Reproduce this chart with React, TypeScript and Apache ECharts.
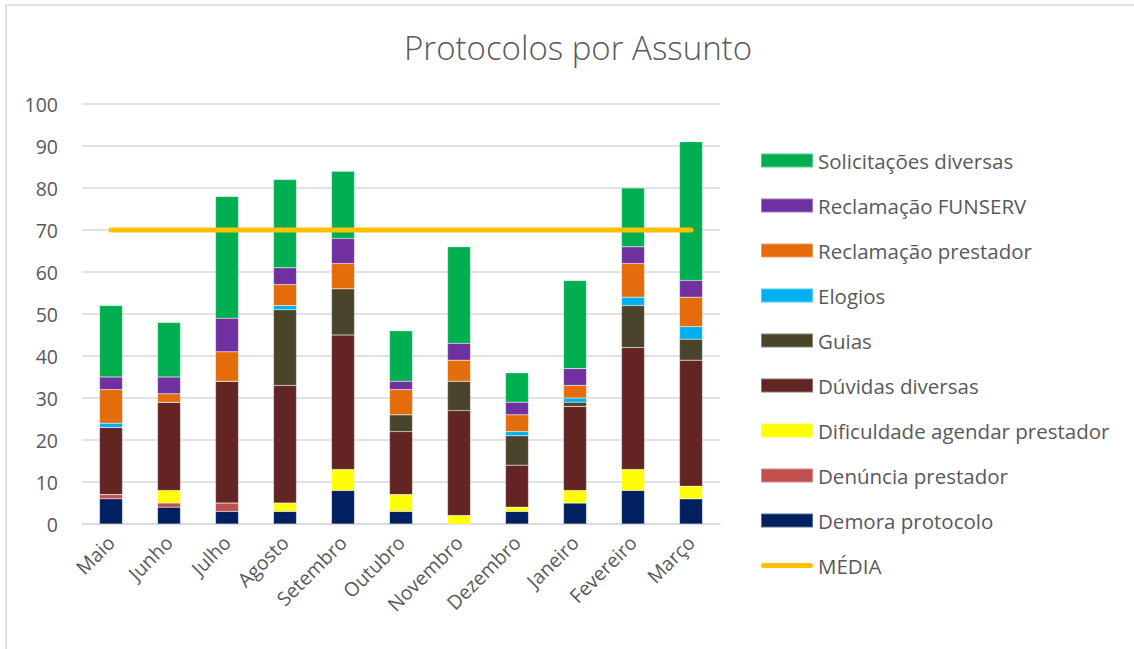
import React, { useEffect, useRef } from "react";
import * as echarts from "echarts";

const categories = ["Maio", "Junho", "Julho", "Agosto", "Setembro", "Outubro", "Novembro", "Dezembro", "Janeiro", "Fevereiro", "Março"];

const demoraProtocolo = [6, 4, 3, 3, 8, 3, 0, 3, 5, 8, 6];
const denunciaPrestador = [1, 1, 2, 0, 0, 0, 0, 0, 0, 0, 0];
const dificuldadeAgendar = [0, 3, 0, 2, 5, 4, 2, 1, 3, 5, 3];
const duvidasDiversas = [16, 21, 29, 28, 32, 15, 25, 10, 20, 29, 30];
const guias = [0, 0, 0, 18, 11, 4, 7, 7, 1, 10, 5];
const elogios = [1, 0, 0, 1, 0, 0, 0, 1, 1, 2, 3];
const reclamacaoPrestador = [8, 2, 7, 5, 6, 6, 5, 4, 3, 8, 7];
const reclamacaoFunserv = [3, 4, 8, 4, 6, 2, 4, 3, 4, 4, 4];
const solicitacoesDiversas = [17, 13, 29, 21, 16, 12, 23, 7, 21, 14, 33];
const media = [70, 70, 70, 70, 70, 70, 70, 70, 70, 70, 70];

const barSeries = [
  { name: "Demora protocolo", data: demoraProtocolo, color: "#002060" },
  { name: "Denúncia prestador", data: denunciaPrestador, color: "#C0504D" },
  { name: "Dificuldade agendar prestador", data: dificuldadeAgendar, color: "#FFFF00" },
  { name: "Dúvidas diversas", data: duvidasDiversas, color: "#632523" },
  { name: "Guias", data: guias, color: "#4A452A" },
  { name: "Elogios", data: elogios, color: "#00B0F0" },
  { name: "Reclamação prestador", data: reclamacaoPrestador, color: "#E46C0A" },
  { name: "Reclamação FUNSERV", data: reclamacaoFunserv, color: "#7030A0" },
  { name: "Solicitações diversas", data: solicitacoesDiversas, color: "#00B050" },
];

const FONT = "'Open Sans', 'Noto Sans', sans-serif";
const LINE_ICON = "path://M2.5,0 L49.5,0 A2.5,2.5 0 0 1 49.5,5 L2.5,5 A2.5,2.5 0 0 1 2.5,0 Z";

export default function App() {
  const ref = useRef<HTMLDivElement>(null);
  useEffect(() => {
    if (!ref.current) return;
    const chart = echarts.init(ref.current, null, { renderer: "svg" });
    const legendData: any[] = [...barSeries].reverse().map((s) => ({ name: s.name, icon: "rect" }));
    legendData.push({ name: "MÉDIA", icon: LINE_ICON });
    chart.setOption({
      animation: false,
      backgroundColor: "#ffffff",
      title: {
        text: "Protocolos por Assunto",
        left: 573,
        textAlign: "center",
        top: 26,
        textStyle: { fontFamily: FONT, fontWeight: 300, fontSize: 33, color: "#595959" },
      },
      graphic: [
        {
          type: "rect",
          shape: { x: 6, y: 5, width: 1300, height: 800 },
          style: { fill: "none", stroke: "#D9D9D9", lineWidth: 1.5 },
          silent: true,
        },
      ],
      grid: { left: 82, right: 414, top: 104, bottom: 125, containLabel: false },
      legend: {
        orient: "vertical",
        left: 755,
        top: 145,
        itemWidth: 52,
        itemHeight: 14,
        itemGap: 24,
        symbolKeepAspect: true,
        textStyle: { fontFamily: FONT, fontSize: 20.5, color: "#595959", lineHeight: 21 },
        data: legendData,
      },
      xAxis: {
        type: "category",
        data: categories,
        axisLine: { lineStyle: { color: "#D9D9D9", width: 1.5 } },
        axisTick: { show: false },
        axisLabel: { rotate: 45, margin: 15, fontFamily: FONT, fontSize: 19.5, color: "#595959" },
      },
      yAxis: {
        type: "value",
        min: 0,
        max: 100,
        interval: 10,
        axisLine: { show: false },
        axisTick: { show: false },
        splitLine: { lineStyle: { color: "#D9D9D9", width: 1.5 } },
        axisLabel: { margin: 24, fontFamily: FONT, fontSize: 19.5, color: "#595959" },
      },
      series: [
        ...barSeries.map((s) => ({
          name: s.name,
          type: "bar",
          stack: "total",
          data: s.data,
          barWidth: 23,
          itemStyle: { color: s.color, borderColor: "rgba(255,255,255,0.35)", borderWidth: 0.5 },
        })),
        {
          name: "MÉDIA",
          type: "line",
          data: media,
          symbol: "none",
          z: 10,
          lineStyle: { color: "#FFC000", width: 5, cap: "round" },
          itemStyle: { color: "#FFC000" },
        },
      ],
    });
    return () => chart.dispose();
  }, []);
  return <div ref={ref} style={{ position: "absolute", left: 0, top: 0, width: 1134, height: 649 }} />;
}
